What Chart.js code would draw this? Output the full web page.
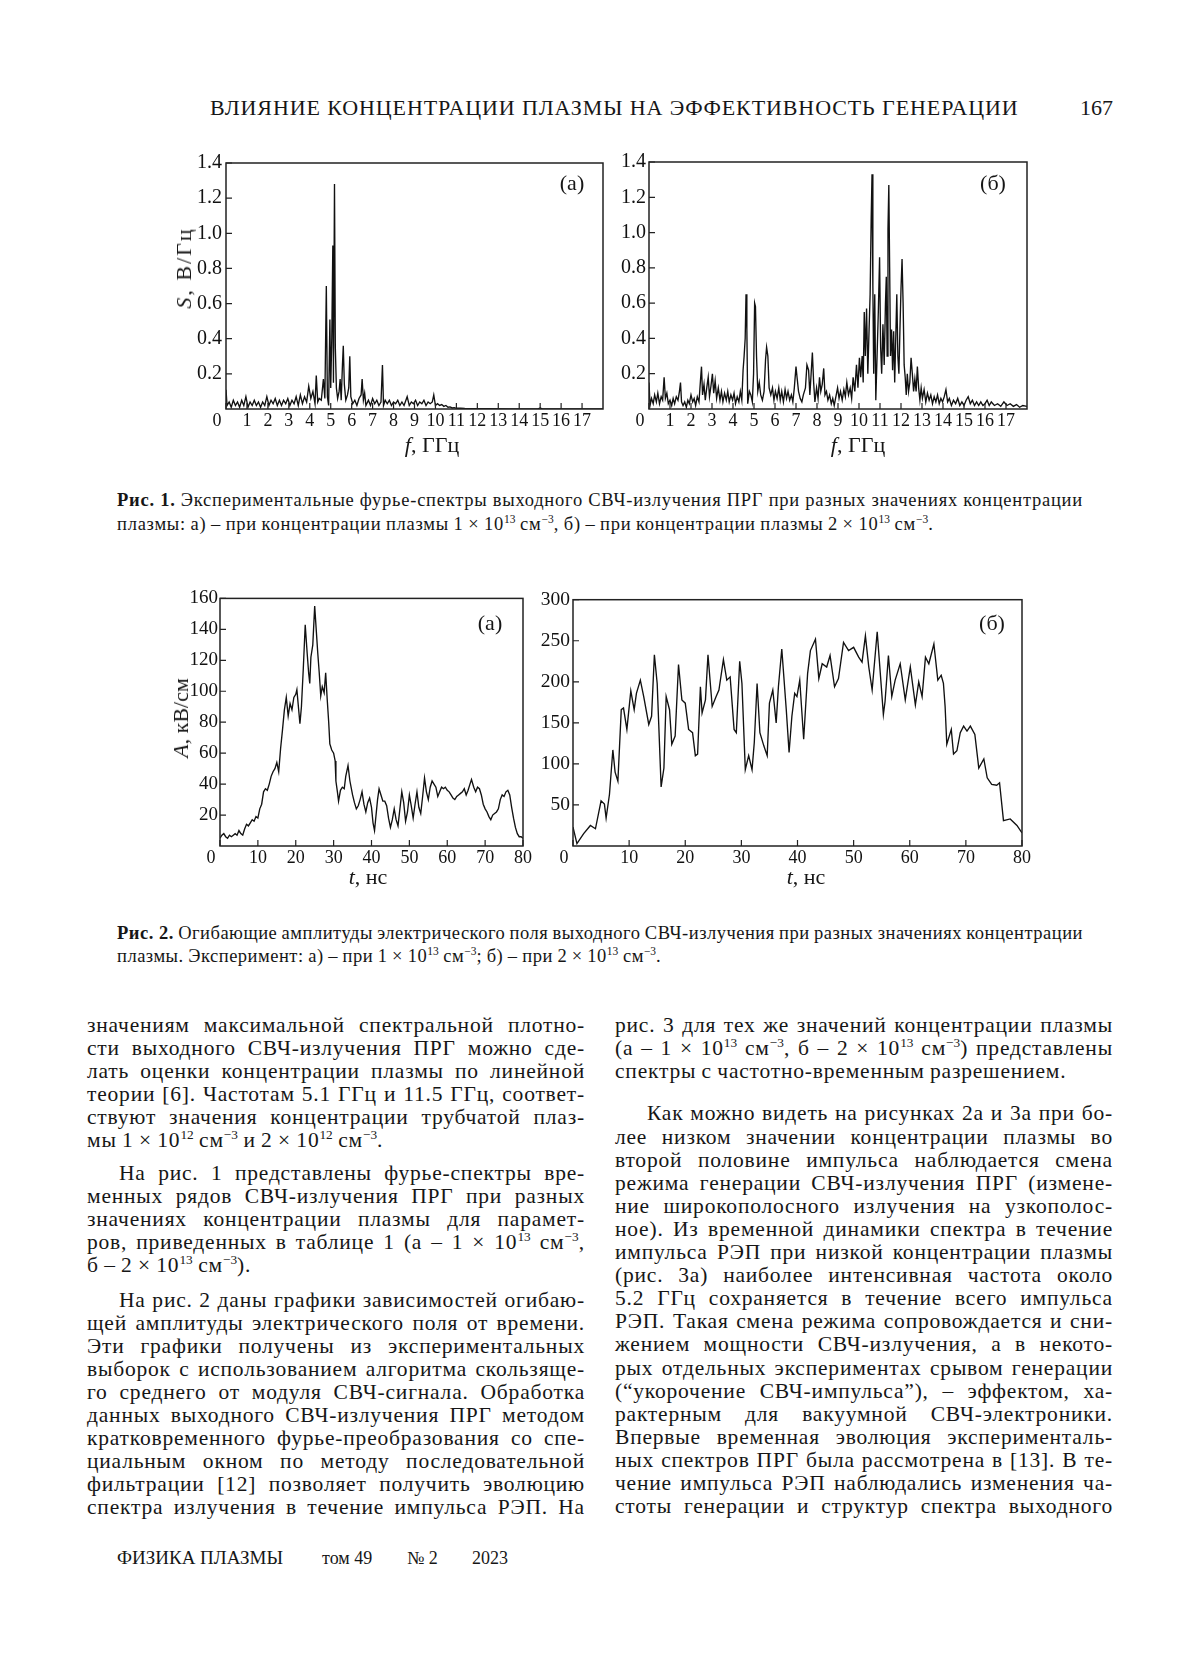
<!DOCTYPE html>
<html lang="ru">
<head>
<meta charset="utf-8">
<title>Рис. 1, Рис. 2</title>
<script src="https://cdn.jsdelivr.net/npm/chart.js@4.4.1/dist/chart.umd.min.js"></script>
<style>
  html, body { margin: 0; padding: 0; background: #fff; }
  body { width: 1200px; height: 1669px; position: relative; overflow: hidden;
         font-family: "Liberation Serif", "Times New Roman", serif; color: #161616; }
  .abs { position: absolute; white-space: nowrap; }
  .mid { transform: translate(-50%, -50%); }
  .box { position: absolute; }
  .lbl { font-size: 22px; }
  .rot { transform: translate(-50%, -50%) rotate(-90deg); }
  .cap { position: absolute; left: 117px; width: 966px; font-size: 18.5px; line-height: 24px; letter-spacing: 0.75px; }
  .col { position: absolute; width: 498px; font-size: 21.5px; line-height: 23.1px; letter-spacing: 0.8px; }
  .ln { display: flex; justify-content: space-between; column-gap: 4px; white-space: nowrap; }
  .ln span { flex-shrink: 0; }
  .ln.last { justify-content: flex-start; column-gap: 0.25em; }
  sup { font-size: 0.62em; line-height: 0; vertical-align: 0.6em; letter-spacing: 0; }
</style>
</head>
<body>

<div class="abs" style="left:210px; top:108px; transform:translateY(-50%); font-size:22px; letter-spacing:0.9px;">ВЛИЯНИЕ КОНЦЕНТРАЦИИ ПЛАЗМЫ НА ЭФФЕКТИВНОСТЬ ГЕНЕРАЦИИ</div>
<div class="abs" style="left:1080px; top:108px; transform:translateY(-50%); font-size:22px;">167</div>

<div class="box" style="left:176px; top:147px; width:441px; height:292px;"><canvas id="specA"></canvas></div>
<div class="box" style="left:599px; top:147px; width:442px; height:292px;"><canvas id="specB"></canvas></div>
<div class="box" style="left:170px; top:585px; width:367px; height:291px;"><canvas id="ampA"></canvas></div>
<div class="box" style="left:523px; top:585px; width:513px; height:291px;"><canvas id="ampB"></canvas></div>

<div class="abs mid lbl" style="left:572px; top:183px;">(а)</div>
<div class="abs mid lbl" style="left:993px; top:183px;">(б)</div>
<div class="abs mid lbl" style="left:490px; top:623px;">(а)</div>
<div class="abs mid lbl" style="left:992px; top:623px;">(б)</div>

<div class="abs mid lbl" style="left:432px; top:445px;"><i>f</i>, ГГц</div>
<div class="abs mid lbl" style="left:858px; top:445px;"><i>f</i>, ГГц</div>
<div class="abs mid lbl" style="left:368px; top:877px;"><i>t</i>, нс</div>
<div class="abs mid lbl" style="left:806px; top:877px;"><i>t</i>, нс</div>
<div class="abs rot lbl" style="left:184px; top:268px; letter-spacing:2px;"><i>S</i>, В/Гц</div>
<div class="abs rot lbl" style="left:181px; top:718px;"><i>A</i>, кВ/см</div>

<div class="cap" id="cap1" style="top:488px;"></div>
<div class="cap" id="cap2" style="top:922px; line-height:23px; letter-spacing:0.5px;"></div>

<div class="col" id="colL" style="left:87px; top:1013.5px;"></div>
<div class="col" id="colR" style="left:615px; top:1013.5px;"></div>

<div class="abs" style="left:117px; top:1558px; transform:translateY(-50%); font-size:19px;">ФИЗИКА ПЛАЗМЫ</div>
<div class="abs" style="left:322px; top:1558px; transform:translateY(-50%); font-size:18px;">том 49</div>
<div class="abs" style="left:407px; top:1558px; transform:translateY(-50%); font-size:18px;">№ 2</div>
<div class="abs" style="left:472px; top:1558px; transform:translateY(-50%); font-size:18px;">2023</div>

<script>
// ticks
const freqTicks = [0, 1, 2, 3, 4, 5, 6, 7, 8, 9, 10, 11, 12, 13, 14, 15, 16, 17];
const specTicks = [0.2, 0.4, 0.6, 0.8, 1.0, 1.2, 1.4];
const timeTicks = [0, 10, 20, 30, 40, 50, 60, 70, 80];
const ampTicksA = [20, 40, 60, 80, 100, 120, 140, 160];
const ampTicksB = [50, 100, 150, 200, 250, 300];

// Рис. 1а: спектр, 1e13 см^-3
const freqA = [0, 0.05, 0.15, 0.25, 0.35, 0.45, 0.55, 0.65, 0.75, 0.85, 0.95, 1.05, 1.15, 1.25, 1.35, 1.45,
  1.55, 1.65, 1.75, 1.85, 1.95, 2.05, 2.15, 2.25, 2.35, 2.45, 2.55, 2.65, 2.75, 2.85, 2.95, 3.05, 3.15, 3.25,
  3.35, 3.45, 3.55, 3.65, 3.75, 3.85, 3.95, 4.05, 4.15, 4.25, 4.31, 4.38, 4.45, 4.55, 4.65, 4.72, 4.79, 4.84,
  4.9, 4.96, 5.0, 5.05, 5.1, 5.13, 5.18, 5.22, 5.27, 5.33, 5.4, 5.45, 5.5, 5.56, 5.6, 5.65, 5.72, 5.8, 5.86,
  5.91, 5.96, 6.05, 6.15, 6.25, 6.35, 6.45, 6.5, 6.56, 6.62, 6.68, 6.8, 6.9, 7.0, 7.1, 7.2, 7.3, 7.4, 7.47,
  7.52, 7.6, 7.7, 7.8, 7.9, 8.0, 8.1, 8.2, 8.3, 8.4, 8.5, 8.65, 8.75, 8.85, 8.95, 9.05, 9.15, 9.25, 9.35,
  9.45, 9.55, 9.65, 9.75, 9.85, 9.92, 10.0, 10.1, 10.2, 10.3, 10.4, 10.5, 10.6, 10.7, 10.8, 10.9, 11.0,
  11.2, 11.4, 11.8, 12.5, 13.5, 14.9, 15.0, 15.1, 16.0, 18.0];
const specA = [0.11, 0.02, 0.04, 0.01, 0.05, 0.02, 0.04, 0.01, 0.05, 0.02, 0.07, 0.01, 0.04, 0.02, 0.05, 0.02,
  0.04, 0.01, 0.04, 0.02, 0.07, 0.02, 0.05, 0.03, 0.06, 0.02, 0.05, 0.02, 0.05, 0.03, 0.06, 0.02, 0.05, 0.03,
  0.07, 0.02, 0.08, 0.03, 0.07, 0.04, 0.13, 0.06, 0.1, 0.03, 0.19, 0.04, 0.06, 0.05, 0.17, 0.06, 0.70, 0.07,
  0.02, 0.51, 0.12, 0.40, 0.93, 0.15, 1.28, 0.35, 0.12, 0.06, 0.1, 0.17, 0.05, 0.25, 0.36, 0.14, 0.05, 0.08, 0.12,
  0.30, 0.07, 0.03, 0.05, 0.02, 0.06, 0.08, 0.17, 0.05, 0.09, 0.02, 0.05, 0.02, 0.06, 0.03, 0.05, 0.02, 0.04, 0.25,
  0.02, 0.05, 0.03, 0.05, 0.02, 0.04, 0.03, 0.05, 0.02, 0.04, 0.02, 0.07, 0.02, 0.04, 0.03, 0.05, 0.02, 0.04, 0.03,
  0.05, 0.02, 0.04, 0.03, 0.04, 0.08, 0.02, 0.03, 0.02, 0.025, 0.015, 0.02, 0.01, 0.012, 0.006, 0.008, 0.004,
  0.005, 0.003, 0.002, 0.002, 0.001, 0.001, 0.006, 0.001, 0.001, 0.001];

// Рис. 1б: спектр, 2e13 см^-3
const freqB = [0, 0.05, 0.12, 0.2, 0.27, 0.35, 0.42, 0.5, 0.58, 0.65, 0.72, 0.78, 0.85, 0.92, 1.0, 1.08, 1.15,
  1.22, 1.3, 1.38, 1.45, 1.5, 1.55, 1.62, 1.7, 1.78, 1.85, 1.92, 2.0, 2.08, 2.15, 2.22, 2.3, 2.38, 2.45, 2.5,
  2.55, 2.62, 2.68, 2.75, 2.82, 2.88, 2.95, 3.02, 3.08, 3.15, 3.22, 3.3, 3.38, 3.45, 3.52, 3.6, 3.68, 3.75,
  3.82, 3.9, 3.98, 4.05, 4.12, 4.2, 4.28, 4.35, 4.42, 4.48, 4.53, 4.58, 4.62, 4.66, 4.7, 4.78, 4.85, 4.92,
  4.98, 5.03, 5.07, 5.12, 5.18, 5.25, 5.32, 5.4, 5.48, 5.55, 5.6, 5.66, 5.72, 5.8, 5.88, 5.95, 6.02, 6.1, 6.18,
  6.25, 6.32, 6.4, 6.48, 6.55, 6.62, 6.7, 6.78, 6.85, 6.92, 7.0, 7.05, 7.12, 7.2, 7.28, 7.35, 7.45, 7.52, 7.6,
  7.66, 7.72, 7.78, 7.84, 7.9, 7.98, 8.05, 8.12, 8.18, 8.25, 8.32, 8.38, 8.45, 8.52, 8.6, 8.68, 8.75, 8.82,
  8.9, 8.98, 9.05, 9.12, 9.2, 9.28, 9.35, 9.42, 9.5, 9.58, 9.65, 9.72, 9.8, 9.88, 9.95, 10.02, 10.08, 10.15,
  10.2, 10.25, 10.3, 10.36, 10.42, 10.48, 10.53, 10.58, 10.62, 10.66, 10.7, 10.75, 10.8, 10.86, 10.92, 10.98,
  11.03, 11.08, 11.14, 11.2, 11.26, 11.3, 11.34, 11.38, 11.42, 11.46, 11.5, 11.55, 11.6, 11.65, 11.7, 11.75,
  11.8, 11.85, 11.9, 11.95, 12.0, 12.05, 12.1, 12.15, 12.2, 12.25, 12.3, 12.36, 12.42, 12.48, 12.54, 12.6,
  12.66, 12.72, 12.78, 12.84, 12.9, 12.96, 13.02, 13.1, 13.18, 13.26, 13.34, 13.42, 13.5, 13.58, 13.66, 13.74,
  13.82, 13.9, 13.98, 14.06, 14.14, 14.22, 14.3, 14.4, 14.5, 14.6, 14.7, 14.8, 14.9, 15.0, 15.1, 15.2, 15.3,
  15.4, 15.5, 15.6, 15.7, 15.8, 15.9, 16.0, 16.1, 16.2, 16.3, 16.45, 16.6, 16.75, 16.9, 17.05, 17.2, 17.35,
  17.5, 17.65, 17.8, 18.0];
const specB = [0.15, 0.02, 0.06, 0.03, 0.08, 0.04, 0.09, 0.03, 0.07, 0.05, 0.18, 0.06, 0.09, 0.03, 0.05, 0.02, 0.06,
  0.03, 0.07, 0.05, 0.1, 0.15, 0.04, 0.02, 0.04, 0.01, 0.05, 0.03, 0.08, 0.04, 0.06, 0.02, 0.07, 0.04, 0.16, 0.24,
  0.08, 0.14, 0.05, 0.12, 0.18, 0.07, 0.13, 0.2, 0.09, 0.16, 0.06, 0.12, 0.05, 0.1, 0.04, 0.09, 0.05, 0.1,
  0.04, 0.08, 0.05, 0.09, 0.03, 0.07, 0.04, 0.1, 0.05, 0.22, 0.30, 0.4, 0.65, 0.45, 0.03, 0.1, 0.08, 0.04,
  0.2, 0.6, 0.58, 0.3, 0.1, 0.15, 0.08, 0.05, 0.1, 0.28, 0.35, 0.3, 0.12, 0.08, 0.12, 0.05, 0.1, 0.06, 0.12,
  0.05, 0.1, 0.04, 0.11, 0.06, 0.1, 0.05, 0.08, 0.04, 0.12, 0.24, 0.18, 0.1, 0.06, 0.04, 0.08, 0.12, 0.25, 0.22,
  0.08, 0.2, 0.32, 0.15, 0.04, 0.12, 0.06, 0.18, 0.1, 0.14, 0.23, 0.08, 0.1, 0.05, 0.08, 0.03, 0.06, 0.02,
  0.07, 0.12, 0.06, 0.1, 0.05, 0.11, 0.07, 0.15, 0.08, 0.12, 0.06, 0.18, 0.1, 0.25, 0.12, 0.29, 0.18, 0.3,
  0.15, 0.55, 0.3, 0.57, 0.2, 0.45, 0.65, 1.08, 1.33, 0.7, 0.2, 0.65, 0.05, 0.3, 0.55, 0.86,
  0.35, 0.2, 0.48, 0.25, 0.6, 0.75, 0.3, 1.02, 1.27, 0.8, 0.3, 0.45, 0.22, 0.44, 0.15, 0.4,
  0.65, 0.3, 0.2, 0.45, 0.68, 0.85, 0.6, 0.25, 0.18, 0.08, 0.2, 0.1, 0.15, 0.29, 0.2, 0.1,
  0.17, 0.1, 0.24, 0.12, 0.05, 0.12, 0.06, 0.11, 0.04, 0.09, 0.05, 0.08, 0.03, 0.07, 0.04, 0.08,
  0.03, 0.06, 0.04, 0.07, 0.11, 0.04, 0.06, 0.02, 0.05, 0.03, 0.06, 0.02, 0.04, 0.02, 0.05, 0.07, 0.03,
  0.05, 0.02, 0.04, 0.02, 0.04, 0.02, 0.03, 0.05, 0.02, 0.04, 0.02, 0.03, 0.015, 0.04, 0.02, 0.03, 0.015,
  0.025, 0.01, 0.02, 0.015];

// Рис. 2а: огибающая, 1e13 см^-3
const timeA = [0, 0.5, 1, 1.5, 2, 2.5, 3, 3.5, 4, 4.5, 5, 5.5, 6, 6.5, 7, 7.5, 8, 8.5, 9, 9.5, 10, 10.5, 11,
  11.5, 12, 12.5, 13, 13.5, 14, 14.5, 15, 15.5, 16, 16.5, 17, 17.5, 18, 18.5, 19, 19.5, 20, 20.3, 20.7, 21.1,
  21.5, 22, 22.5, 23, 23.4, 23.7, 24, 24.5, 25, 25.4, 25.8, 26.2, 26.6, 27, 27.5, 27.9, 28.3, 28.7, 29, 29.5,
  30, 30.4, 30.6, 31, 31.3, 31.8, 32.3, 32.8, 33.2, 33.8, 34.3, 35, 35.5, 36, 36.5, 37, 37.5, 38, 38.5, 39,
  39.5, 40, 40.4, 40.8, 41.2, 41.6, 42, 42.5, 43, 43.5, 44, 44.5, 45, 45.5, 46, 46.5, 47, 47.5, 48, 48.5, 49,
  49.5, 50, 50.5, 51, 51.5, 52, 52.5, 53, 53.5, 54, 54.5, 55, 55.5, 56, 56.5, 57, 57.5, 58, 58.5, 59, 59.5,
  60, 60.5, 61, 61.5, 62, 62.5, 63, 63.5, 64, 64.5, 65, 65.5, 66, 66.4, 67, 67.5, 68, 68.5, 69, 69.5, 70,
  70.5, 71, 71.5, 72, 72.5, 73, 73.5, 74, 74.5, 75, 75.5, 76, 76.5, 77, 77.5, 78, 78.5, 79, 79.5, 80];
const ampA = [5, 7, 8, 6, 5, 7, 6, 7, 8, 7, 10, 8, 7, 11, 14, 13, 15, 17, 16, 19, 18, 24, 27,
  35, 37, 36, 40, 45, 48, 50, 54, 48, 63, 75, 88, 96, 84, 92, 88, 96, 98, 101, 90, 79,
  90, 115, 143, 125, 112, 105, 122, 130, 155, 140, 125, 112, 97, 103, 99, 112, 95, 80, 66, 62,
  60, 55, 42, 35, 29, 36, 38, 37, 45, 52, 42, 33, 28, 24, 26, 30, 35, 27, 22, 28,
  31, 25, 15, 10, 20, 30, 37, 33, 29, 29, 26, 18, 12, 17, 24, 17, 13, 24, 35, 28, 16,
  22, 33, 26, 18, 27, 35, 25, 21, 32, 44, 35, 30, 38, 42, 40, 38, 32, 35, 38, 37, 38,
  36, 35, 33, 31, 30, 32, 33, 34, 35, 37, 33, 36, 40, 43, 38, 35, 38, 37, 33, 27, 24,
  22, 19, 17, 20, 21, 22, 24, 30, 33, 32, 35, 36, 33, 25, 18, 12, 8, 6, 6, 5];

// Рис. 2б: огибающая, 2e13 см^-3
const timeB = [0, 0.7, 1.9, 3.1, 4.0, 5.0, 5.6, 5.9, 6.5, 7.1, 7.5, 8.0, 8.6, 9.0, 9.6, 10.3, 10.9, 11.3,
  12.0, 12.6, 13.5, 14.0, 14.5, 15.0, 15.7, 16.2, 16.6, 17.2, 17.6, 18.2, 18.8, 19.4, 20.0, 20.6, 21.3, 21.8,
  22.2, 22.7, 23.0, 23.6, 24.05, 24.8, 25.5, 26.0, 26.8, 27.4, 28.0, 28.7, 29.1, 29.7, 30.1, 30.7, 31.3, 31.9,
  32.3, 32.8, 33.3, 34.0, 34.6, 35.0, 35.6, 36.2, 36.6, 37.2, 38.0, 38.5, 39.0, 39.5, 39.9, 40.4, 41.1, 41.8,
  42.3, 43.2, 43.8, 44.4, 45.2, 45.8, 46.6, 47.3, 48.2, 49.1, 50.0, 50.9, 51.5, 52.1, 52.7, 53.3, 54.2, 54.8,
  55.3, 55.6, 56.2, 56.8, 57.4, 58.3, 59.2, 60.1, 61.0, 61.6, 62.2, 62.8, 63.4, 64.3, 65.0, 65.6, 66.0, 66.3,
  66.6, 67.4, 67.8, 68.4, 69.0, 69.6, 70.2, 70.8, 71.6, 72.3, 73.2, 73.8, 74.6, 75.5, 76.0, 76.7, 77.9, 79.1, 80];
const ampB = [23, 3, 15, 25, 21, 55, 51, 34, 63, 117, 90, 79, 166, 168, 142, 189, 166, 186,
  202, 182, 148, 158, 233, 198, 72, 95, 182, 166, 124, 134, 221, 178, 174, 142, 138, 110,
  112, 194, 162, 178, 233, 170, 182, 190, 227, 202, 206, 142, 138, 225, 198, 93, 110, 93,
  126, 198, 138, 122, 110, 174, 190, 150, 194, 240, 166, 114, 158, 186, 182, 202, 130, 210,
  238, 252, 204, 222, 218, 232, 194, 204, 248, 238, 242, 230, 224, 256, 218, 190, 261, 206,
  160, 176, 232, 182, 202, 222, 178, 218, 172, 200, 182, 230, 222, 246, 202, 208, 198, 170,
  124, 142, 112, 116, 138, 146, 140, 146, 136, 95, 106, 83, 75, 74, 77, 31, 33, 25, 16];

// text of the page
const cap1Lines = [
  '<b>Рис.&nbsp;1.</b> Экспериментальные фурье-спектры выходного СВЧ-излучения ПРГ при разных значениях концентрации',
  'плазмы: а) – при концентрации плазмы 1 × 10<sup>13</sup> см<sup>−3</sup>, б) – при концентрации плазмы 2 × 10<sup>13</sup> см<sup>−3</sup>.'
];
const cap2Lines = [
  '<b>Рис.&nbsp;2.</b> Огибающие амплитуды электрического поля выходного СВЧ-излучения при разных значениях концентрации',
  'плазмы. Эксперимент: а) – при 1 × 10<sup>13</sup> см<sup>−3</sup>; б) – при 2 × 10<sup>13</sup> см<sup>−3</sup>.'
];
const leftParas = [
  { indent: false, gap: 0, lines: [
    'значениям максимальной спектральной плотно-',
    'сти выходного СВЧ-излучения ПРГ можно сде-',
    'лать оценки концентрации плазмы по линейной',
    'теории [6]. Частотам 5.1 ГГц и 11.5 ГГц, соответ-',
    'ствуют значения концентрации трубчатой плаз-',
    'мы 1 × 10<sup>12</sup> см<sup>−3</sup> и 2 × 10<sup>12</sup> см<sup>−3</sup>.'] },
  { indent: true, gap: 9.5, lines: [
    'На рис. 1 представлены фурье-спектры вре-',
    'менных рядов СВЧ-излучения ПРГ при разных',
    'значениях концентрации плазмы для парамет-',
    'ров, приведенных в таблице 1 (а – 1 × 10<sup>13</sup> см<sup>−3</sup>,',
    'б – 2 × 10<sup>13</sup> см<sup>−3</sup>).'] },
  { indent: true, gap: 11.5, open: true, lines: [
    'На рис. 2 даны графики зависимостей огибаю-',
    'щей амплитуды электрического поля от времени.',
    'Эти графики получены из экспериментальных',
    'выборок с использованием алгоритма скользяще-',
    'го среднего от модуля СВЧ-сигнала. Обработка',
    'данных выходного СВЧ-излучения ПРГ методом',
    'кратковременного фурье-преобразования со спе-',
    'циальным окном по методу последовательной',
    'фильтрации [12] позволяет получить эволюцию',
    'спектра излучения в течение импульса РЭП. На'] }
];
const rightParas = [
  { indent: false, gap: 0, lines: [
    'рис. 3 для тех же значений концентрации плазмы',
    '(а – 1 × 10<sup>13</sup> см<sup>−3</sup>, б – 2 × 10<sup>13</sup> см<sup>−3</sup>) представлены',
    'спектры с частотно-временным разрешением.'] },
  { indent: true, gap: 19.7, open: true, lines: [
    'Как можно видеть на рисунках 2а и 3а при бо-',
    'лее низком значении концентрации плазмы во',
    'второй половине импульса наблюдается смена',
    'режима генерации СВЧ-излучения ПРГ (измене-',
    'ние широкополосного излучения на узкополос-',
    'ное). Из временной динамики спектра в течение',
    'импульса РЭП при низкой концентрации плазмы',
    '(рис. 3а) наиболее интенсивная частота около',
    '5.2 ГГц сохраняется в течение всего импульса',
    'РЭП. Такая смена режима сопровождается и сни-',
    'жением мощности СВЧ-излучения, а в некото-',
    'рых отдельных экспериментах срывом генерации',
    '(“укорочение СВЧ-импульса”), – эффектом, ха-',
    'рактерным для вакуумной СВЧ-электроники.',
    'Впервые временная эволюция эксперименталь-',
    'ных спектров ПРГ была рассмотрена в [13]. В те-',
    'чение импульса РЭП наблюдались изменения ча-',
    'стоты генерации и структур спектра выходного'] }
];

const makeLine = (html, last, indent) => {
  const row = document.createElement('div');
  row.className = last ? 'ln last' : 'ln';
  if (indent) row.style.paddingLeft = '32px';
  html.split(' ').forEach(w => {
    const s = document.createElement('span');
    s.innerHTML = w;
    row.appendChild(s);
  });
  return row;
};

const fillCaption = (id, lines) => {
  const el = document.getElementById(id);
  lines.forEach((l, i) => el.appendChild(makeLine(l, i === lines.length - 1, false)));
};

const fillColumn = (id, paras) => {
  const el = document.getElementById(id);
  paras.forEach(p => {
    const block = document.createElement('div');
    block.style.marginTop = p.gap + 'px';
    p.lines.forEach((l, i) => {
      const last = !p.open && i === p.lines.length - 1;
      block.appendChild(makeLine(l, last, p.indent && i === 0));
    });
    el.appendChild(block);
  });
};

fillCaption('cap1', cap1Lines);
fillCaption('cap2', cap2Lines);
fillColumn('colL', leftParas);
fillColumn('colR', rightParas);

// box around plot area plus inward tick marks
const framePlugin = {
  id: 'frame',
  afterDraw(chart) {
    const { ctx, chartArea: a, scales } = chart;
    ctx.save();
    ctx.strokeStyle = '#222';
    ctx.lineWidth = 1.5;
    ctx.strokeRect(a.left, a.top, a.right - a.left, a.bottom - a.top);
    ctx.lineWidth = 1.2;
    ctx.beginPath();
    scales.x.ticks.forEach(t => {
      const px = scales.x.getPixelForValue(t.value);
      ctx.moveTo(px, a.bottom);
      ctx.lineTo(px, a.bottom - 6);
    });
    scales.y.ticks.forEach(t => {
      const py = scales.y.getPixelForValue(t.value);
      ctx.moveTo(a.left, py);
      ctx.lineTo(a.left + 6, py);
    });
    ctx.stroke();
    ctx.restore();
  }
};

const tickFont = size => ({ family: '"Liberation Serif", "Times New Roman", serif', size });

// the zero on the x axis sits a little left of the corner, as in the print
const xLabel = v => (v === 0 ? '0\u2002\u2002' : String(v));

const makeChart = (id, xs, ys, xMax, yMax, xTicks, yTicks, yFmt, yFont, yPad) => {
  const canvas = document.getElementById(id);
  const ctx = canvas.getContext('2d');
  return new Chart(ctx, {
    type: 'line',
    data: {
      datasets: [{
        data: xs.map((x, i) => ({ x, y: ys[i] })),
        borderColor: '#111',
        borderWidth: 1.35,
        pointRadius: 0,
        tension: 0,
        fill: false
      }]
    },
    options: {
      responsive: true,
      maintainAspectRatio: false,
      animation: false,
      devicePixelRatio: 1,
      layout: { padding: { top: 10, right: 14, left: 0, bottom: 0 } },
      plugins: { legend: { display: false }, tooltip: { enabled: false } },
      scales: {
        x: {
          type: 'linear', min: 0, max: xMax,
          grid: { display: false, drawTicks: false }, border: { display: false },
          afterBuildTicks: s => { s.ticks = xTicks.map(v => ({ value: v })); },
          afterFit: s => { s.height = 30; },
          ticks: { autoSkip: false, maxRotation: 0, minRotation: 0, padding: 1, color: '#111',
                   font: tickFont(18), callback: xLabel }
        },
        y: {
          min: 0, max: yMax,
          grid: { display: false, drawTicks: false }, border: { display: false },
          afterBuildTicks: s => { s.ticks = yTicks.map(v => ({ value: v })); },
          afterFit: s => { s.width = 50; },
          ticks: { padding: yPad, color: '#111', font: tickFont(yFont), callback: yFmt }
        }
      }
    },
    plugins: [framePlugin]
  });
};

makeChart('specA', freqA, specA, 18, 1.4, freqTicks, specTicks, v => v.toFixed(1), 20, 4);
makeChart('specB', freqB, specB, 18, 1.4, freqTicks, specTicks, v => v.toFixed(1), 20, 3);
makeChart('ampA', timeA, ampA, 80, 160, timeTicks, ampTicksA, v => v, 19, 2);
makeChart('ampB', timeB, ampB, 80, 300, timeTicks, ampTicksB, v => v, 19.5, 3);
</script>
</body>
</html>
